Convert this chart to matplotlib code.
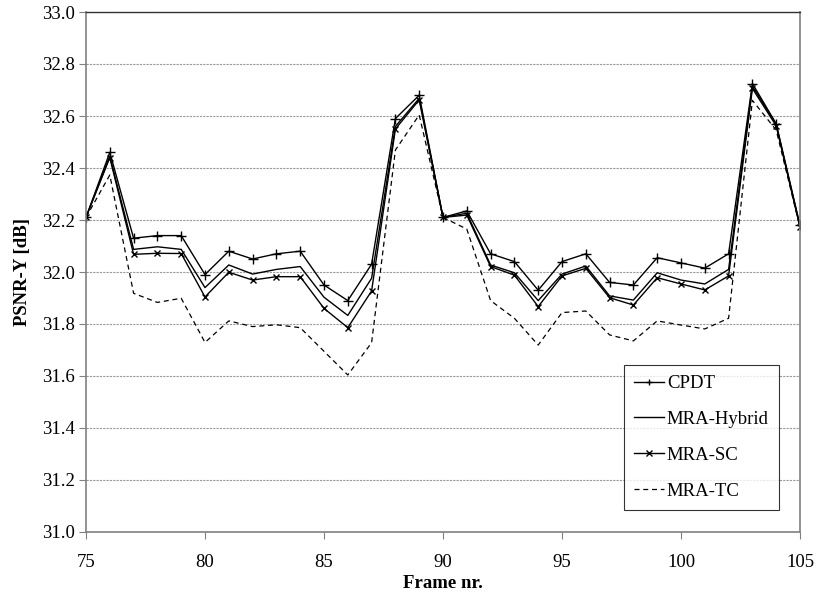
import matplotlib.pyplot as plt
import numpy as np

plt.rcParams['font.family'] = ['Liberation Serif', 'DejaVu Serif']

frames = np.arange(75, 106)

cpdt = [32.21, 32.46, 32.13, 32.14, 32.14, 31.99, 32.08, 32.05, 32.07, 32.08,
        31.95, 31.89, 32.03, 32.59, 32.68, 32.21, 32.235, 32.07, 32.04, 31.93,
        32.04, 32.07, 31.96, 31.95, 32.055, 32.035, 32.015, 32.07, 32.725, 32.57, 32.18]
hybrid = [32.21, 32.445, 32.087, 32.097, 32.087, 31.94, 32.027, 31.992, 32.01, 32.021,
          31.903, 31.833, 31.976, 32.56, 32.668, 32.21, 32.226, 32.027, 31.997, 31.89,
          31.992, 32.023, 31.908, 31.892, 31.997, 31.969, 31.954, 32.01, 32.715, 32.568, 32.175]
sc = [32.21, 32.44, 32.068, 32.072, 32.071, 31.904, 31.999, 31.969, 31.982, 31.982,
      31.86, 31.786, 31.927, 32.55, 32.662, 32.21, 32.219, 32.021, 31.988, 31.867,
      31.985, 32.014, 31.901, 31.873, 31.978, 31.954, 31.931, 31.985, 32.706, 32.562, 32.172]
tc = [32.21, 32.373, 31.918, 31.883, 31.899, 31.729, 31.812, 31.79, 31.797, 31.786,
      31.695, 31.604, 31.728, 32.469, 32.604, 32.21, 32.165, 31.89, 31.822, 31.719,
      31.844, 31.85, 31.758, 31.735, 31.812, 31.796, 31.781, 31.822, 32.66, 32.546, 32.172]

fig = plt.figure(figsize=(8.16, 5.97), dpi=100)
ax = fig.add_axes([86 / 816, 1 - 532 / 597, 714 / 816, 520 / 597])

ax.plot(frames, cpdt, color='black', lw=1.0, marker='+', ms=7, mew=1.0, label='CPDT')
ax.plot(frames, hybrid, color='black', lw=1.0, label='MRA-Hybrid')
ax.plot(frames, sc, color='black', lw=1.0, marker='x', ms=5, mew=1.0, label='MRA-SC')
ax.plot(frames, tc, color='black', lw=0.9, ls=(0, (4, 3)), label='MRA-TC')

ax.set_xlim(75, 105)
ax.set_ylim(31.0, 33.0)
ax.set_xticks(np.arange(75, 106, 5))
ax.set_yticks(np.arange(31.0, 33.01, 0.2))
ax.set_yticklabels(['%.1f' % v for v in np.arange(31.0, 33.01, 0.2)])
ax.yaxis.grid(True, color='#999999', ls=(0, (2, 1)), lw=0.8)
ax.set_axisbelow(True)

for s in ['left', 'bottom', 'right']:
    ax.spines[s].set_color('#808080')
    ax.spines[s].set_linewidth(1.2)
ax.spines['top'].set_color('#333333')
ax.spines['top'].set_linewidth(1.0)

ax.tick_params(axis='both', direction='out', length=5, color='#808080', labelsize=13.5)
ax.tick_params(axis='x', pad=11)
ax.tick_params(axis='y', pad=3)

ax.set_xlabel('Frame nr.', fontsize=13.5, fontweight='bold', labelpad=3)
ax.set_ylabel('PSNR-Y [dB]', fontsize=13.5, fontweight='bold', labelpad=8)

leg = ax.legend(loc='lower right', bbox_to_anchor=(693 / 714, 22 / 520), fontsize=13.5,
                frameon=True, fancybox=False, edgecolor='black', handlelength=1.6,
                handletextpad=0.15, labelspacing=1.0, borderpad=0.55, borderaxespad=0)
leg.get_frame().set_linewidth(0.8)
for h in leg.get_lines():
    h.set_markersize(5)

fig.savefig('out.png', dpi=100)
